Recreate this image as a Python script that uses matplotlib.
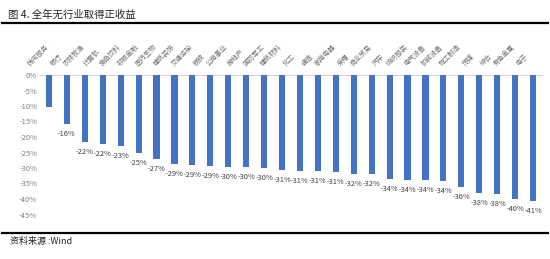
import matplotlib
matplotlib.use("Agg")
import matplotlib.pyplot as plt
from matplotlib.lines import Line2D

plt.rcParams['font.family'] = ['Noto Sans CJK SC', 'DejaVu Sans']

categories = ["休闲服务", "银行", "农林牧渔", "计算机", "食品饮料", "非银金融", "医药生物",
              "建筑装饰", "交通运输", "钢铁", "公用事业", "房地产", "国防军工", "建筑材料",
              "化工", "通信", "家用电器", "采掘", "商业贸易", "汽车", "纺织服装", "电气设备",
              "机械设备", "轻工制造", "传媒", "综合", "有色金属", "电子"]
values = [-10.4, -15.8, -21.6, -22.2, -22.9, -25.3, -27.0, -28.6, -29.1, -29.4, -29.8, -29.8,
          -30.1, -30.6, -30.9, -31.0, -31.3, -32.0, -32.0, -33.6, -33.9, -33.9, -34.1, -36.0,
          -38.0, -38.5, -40.0, -40.7]
yticks = [0, -5, -10, -15, -20, -25, -30, -35, -40, -45]
title = "图 4. 全年无行业取得正收益"
source = "资料来源 :Wind"

W, H = 550, 259
fig = plt.figure(figsize=(W / 100, H / 100), dpi=100)
ax = fig.add_axes([40 / W, (H - 214.5) / H, 502 / W, (214.5 - 75) / H])

x = list(range(len(categories)))
ax.bar(x, values, width=0.34, color="#4472C4", zorder=3)
ax.set_xlim(-0.5, len(categories) - 0.5)
ax.set_ylim(-45, 0)
ax.set_yticks(yticks)
ax.set_yticklabels([f"{t}%" for t in yticks], fontsize=5.5, color="#808080")
ax.tick_params(axis="y", length=0, pad=2)
ax.set_xticks([])
for s in ["left", "right", "bottom"]:
    ax.spines[s].set_visible(False)
ax.spines["top"].set_color("#D9D9D9")
ax.spines["top"].set_linewidth(0.8)

for i, v in enumerate(values):
    if i == 0:
        continue
    ax.annotate(f"{round(v)}%", (i, v), xytext=(0, -7.2), textcoords="offset points",
                ha="center", va="center", fontsize=5.4, color="#404040")

trans = ax.get_xaxis_transform()
for i, c in enumerate(categories):
    ax.text(i - 0.6, 1.05, c, transform=trans, rotation=45, ha="center", va="bottom",
            fontsize=4.9, color="#6f6f6f")

fig.text(8 / W, 1 - 15 / H, title, fontsize=7.5, color="#222222", ha="left", va="center")
fig.add_artist(Line2D([2 / W, 548 / W], [1 - 23 / H, 1 - 23 / H], color="black", lw=1.6,
                      transform=fig.transFigure))
fig.add_artist(Line2D([2 / W, 548 / W], [1 - 233 / H, 1 - 233 / H], color="black", lw=1.6,
                      transform=fig.transFigure))
fig.text(10 / W, 1 - 241 / H, source, fontsize=6.5, color="#222222", ha="left", va="center")

fig.savefig("out.png", dpi=100)
